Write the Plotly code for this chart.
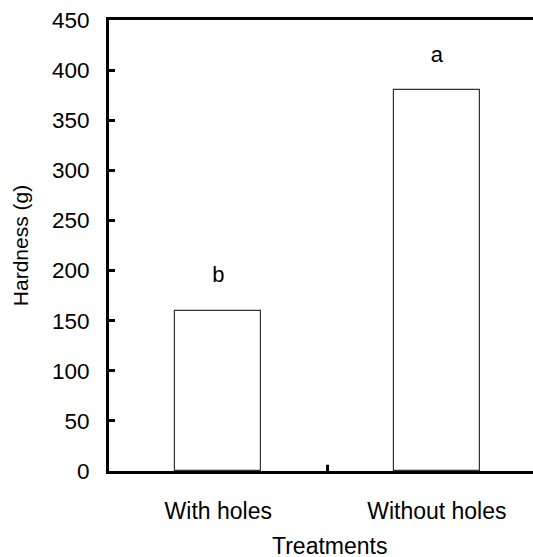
import plotly.graph_objects as go

categories = ["With holes", "Without holes"]
hardness = [160, 380]
letters = ["b", "a"]
y_ticks = [0, 50, 100, 150, 200, 250, 300, 350, 400, 450]
x_title = "Treatments"
y_title = "Hardness (g)"

FONT = "Liberation Sans, Arial, sans-serif"

fig = go.Figure()
fig.add_trace(go.Bar(
    x=[0, 1], y=hardness, width=0.395,
    marker=dict(color="white", line=dict(color="#333333", width=1.2)),
    hoverinfo="skip", showlegend=False,
))
fig.add_trace(go.Scatter(
    x=[0, 1], y=[v + 34 for v in hardness], text=letters, mode="text",
    textfont=dict(family=FONT, size=22, color="black"),
    textposition="middle center", showlegend=False, hoverinfo="skip",
))

fig.update_layout(
    width=533, height=557,
    margin=dict(l=109, r=0, t=20, b=86),
    paper_bgcolor="white", plot_bgcolor="white",
    font=dict(family=FONT, size=22, color="black"),
    bargap=0,
)
fig.update_xaxes(
    range=[-0.5, 1.44], tickmode="array", tickvals=[0, 1], ticktext=categories,
    showline=True, linecolor="black", linewidth=3, mirror=True,
    ticks="", showgrid=False, zeroline=False, automargin=False,
    ticklabelstandoff=17, tickfont=dict(size=23),
)
fig.update_yaxes(
    range=[0, 450], tickvals=y_ticks,
    showline=True, linecolor="black", linewidth=3,
    ticks="inside", ticklen=6, tickwidth=3, tickcolor="black",
    showgrid=False, zeroline=False, ticklabelstandoff=12, automargin=False,
    tickfont=dict(size=22.5),
    title=dict(text=y_title, standoff=18, font=dict(size=21)),
)
fig.add_annotation(
    text=x_title, xref="paper", yref="paper", x=0.519, y=0,
    yshift=-75, xanchor="center", yanchor="middle", showarrow=False,
    font=dict(family=FONT, size=23, color="black"),
)
# boundary tick between categories
fig.add_shape(type="line", xref="x", yref="paper", x0=0.5, x1=0.5, y0=0, y1=0.014,
              line=dict(color="black", width=3))
fig.write_html(
    "out.html",
    config={"displayModeBar": False},
    post_script="document.body.style.margin='0';document.body.style.overflow='hidden';",
)
